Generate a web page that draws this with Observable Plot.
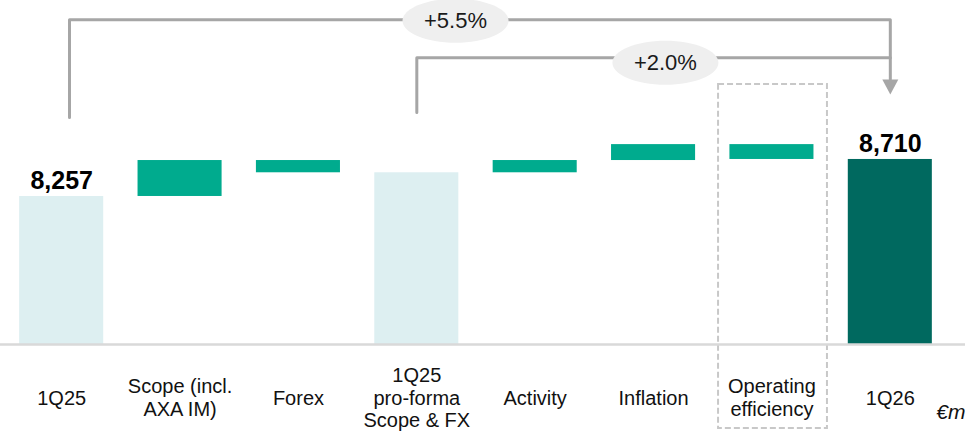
<!DOCTYPE html>
<html>
<head>
<meta charset="utf-8">
<script src="https://cdn.jsdelivr.net/npm/d3@7"></script>
<script src="https://cdn.jsdelivr.net/npm/@observablehq/plot@0.6"></script>
<style>
  html, body { margin: 0; padding: 0; background: #fff; }
  #chart { width: 965px; height: 432px; overflow: hidden; }
  svg { font-family: "Liberation Sans", Arial, sans-serif; }
</style>
</head>
<body>
<div id="chart"></div>
<script>
// ---- data ----
const categories = ["1Q25", "Scope (incl.\nAXA IM)", "Forex", "1Q25\npro-forma\nScope & FX", "Activity", "Inflation", "Operating\nefficiency", "1Q26"];
const kinds = ["start", "delta", "delta", "subtotal", "delta", "delta", "delta", "end"];
const values = [8257, 440, -150, 8547, 150, 195, -182, 8710];
const valueLabels = ["8,257", "", "", "", "", "", "", "8,710"];
const bridgeLabels = ["+5.5%", "+2.0%"];
const unitLabel = "€m";

// ---- waterfall geometry (data units) ----
const yFloor = 6445;
const yTop = 10656;
let running = 0;
const bars = categories.map((c, i) => {
  let y1, y2;
  if (kinds[i] === "delta") { y1 = running; y2 = running + values[i]; running = y2; }
  else { y1 = yFloor; y2 = values[i]; running = values[i]; }
  return { i, kind: kinds[i], y1, y2, top: Math.max(y1, y2), label: valueLabels[i] };
});
const colors = { start: "#ddeff1", subtotal: "#ddeff1", delta: "#00ab8e", end: "#00695f" };
const half = 0.355;

// bridge annotation levels (data units)
const outerLevel = 10420, innerLevel = 9955;
const bridges = [
  { g: "outer", x: 0.066, y: 9225 }, { g: "outer", x: 0.066, y: outerLevel },
  { g: "outer", x: 7, y: outerLevel }, { g: "outer", x: 7, y: 9690 },
  { g: "inner", x: 3, y: 9285 }, { g: "inner", x: 3, y: innerLevel },
  { g: "inner", x: 7, y: innerLevel }
];
const bubbles = [
  { x: 3.327, y: outerLevel, label: bridgeLabels[0] },
  { x: 5.10, y: innerLevel, label: bridgeLabels[1] }
];

const ellipse = {
  draw(ctx) {
    const rx = 53, ry = 22, k = 0.5522847;
    ctx.moveTo(rx, 0);
    ctx.bezierCurveTo(rx, k * ry, k * rx, ry, 0, ry);
    ctx.bezierCurveTo(-k * rx, ry, -rx, k * ry, -rx, 0);
    ctx.bezierCurveTo(-rx, -k * ry, -k * rx, -ry, 0, -ry);
    ctx.bezierCurveTo(k * rx, -ry, rx, -k * ry, rx, 0);
    ctx.closePath();
  }
};
const arrowHead = {
  draw(ctx) {
    ctx.moveTo(0, 0);
    ctx.lineTo(-8, -15);
    ctx.lineTo(8, -15);
    ctx.closePath();
  }
};

const chart = Plot.plot({
  width: 965,
  height: 432,
  marginLeft: 2,
  marginRight: 16,
  marginTop: 0,
  marginBottom: 88,
  x: { type: "linear", domain: [-0.5, 7.5], axis: null },
  y: { domain: [yFloor, yTop], axis: null },
  marks: [
    // dashed highlight box around "Operating efficiency"
    Plot.rect([{ x1: 5.549, x2: 6.469, y1: 5417, y2: 9628 }], {
      x1: "x1", x2: "x2", y1: "y1", y2: "y2",
      fill: "none", stroke: "#c8c8c8", strokeWidth: 2, strokeDasharray: "6,3"
    }),
    Plot.rect(bars, {
      x1: d => d.i - half, x2: d => d.i + half,
      y1: "y1", y2: "y2",
      fill: d => colors[d.kind]
    }),
    Plot.ruleY([yFloor], { stroke: "#d9d9d9", strokeWidth: 2.5, insetLeft: -6, insetRight: -16 }),
    Plot.line(bridges, { x: "x", y: "y", z: "g", stroke: "#a6a6a6", strokeWidth: 3 }),
    Plot.dot([{ x: 7, y: 9505 }], { x: "x", y: "y", symbol: arrowHead, r: 6, fill: "#a6a6a6", stroke: "none" }),
    Plot.dot(bubbles.slice(0, 1), { x: "x", y: "y", dy: 1, symbol: ellipse, r: 20, fill: "#efefef", stroke: "none" }),
    Plot.text(bubbles.slice(0, 1), { x: "x", y: "y", dy: 1, text: "label", fontSize: 22, fill: "#1a1a1a", lineAnchor: "middle" }),
    Plot.dot(bubbles.slice(1), { x: "x", y: "y", dy: 5, symbol: ellipse, r: 20, fill: "#efefef", stroke: "none" }),
    Plot.text(bubbles.slice(1), { x: "x", y: "y", dy: 5, text: "label", fontSize: 22, fill: "#1a1a1a", lineAnchor: "middle" }),
    Plot.text(bars.filter(d => d.label), {
      x: "i", y: "top", text: "label", dy: -15.5, lineAnchor: "middle",
      fontSize: 25, fontWeight: "bold", fill: "#000"
    }),
    Plot.text(categories, {
      x: (d, i) => i, text: d => d, frameAnchor: "bottom", dy: 53,
      lineAnchor: "middle", lineHeight: 1.12, fontSize: 20, fill: "#111"
    }),
    Plot.text([unitLabel], {
      text: d => d, frameAnchor: "bottom-right", dx: 16, dy: 68,
      textAnchor: "end", lineAnchor: "middle", fontSize: 21, fontStyle: "italic", fill: "#111"
    })
  ]
});
document.getElementById("chart").appendChild(chart);
</script>
</body>
</html>
